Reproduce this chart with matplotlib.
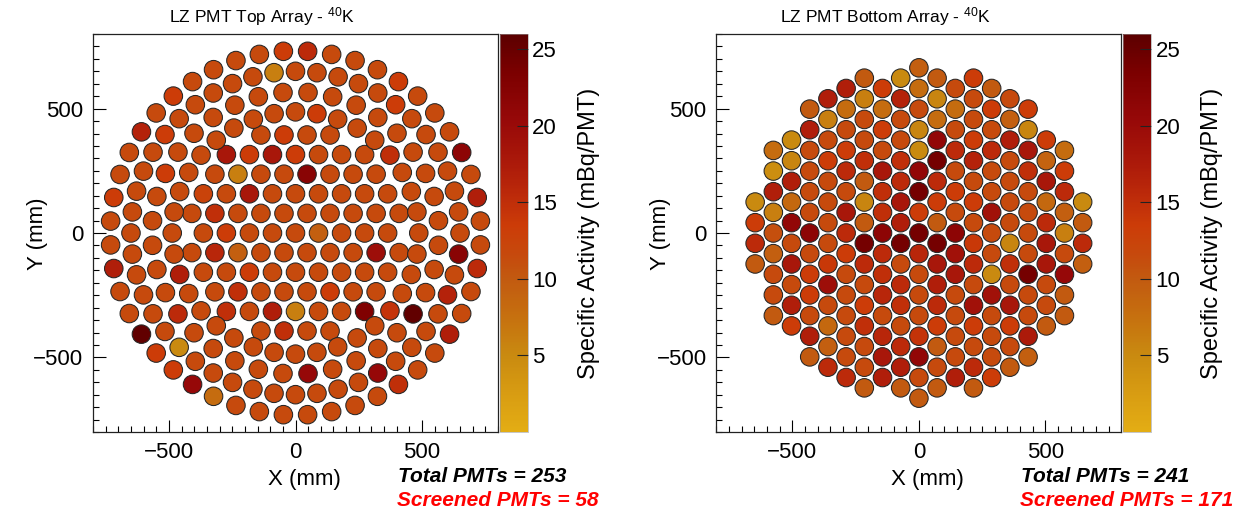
import numpy as np
import matplotlib
matplotlib.use("Agg")
import matplotlib.pyplot as plt
from matplotlib.colors import LinearSegmentedColormap, Normalize
from matplotlib.ticker import MultipleLocator

plt.rcParams['font.family'] = ['Liberation Sans', 'DejaVu Sans']
plt.rcParams['mathtext.fontset'] = 'custom'
plt.rcParams['mathtext.rm'] = 'Liberation Sans'
plt.rcParams['mathtext.it'] = 'Liberation Sans:italic'
plt.rcParams['mathtext.bf'] = 'Liberation Sans:bold'

# ---------------- data ----------------
palette_levels = [0, 2.5, 5, 7.5, 10, 11.5, 13.5, 15.5, 17.5, 20.5, 23.5, 26]
palette_colors = ['#E3AD14', '#D89C12', '#C98A10', '#C6700F', '#C25A10', '#C64A0D',
                  '#CC3C08', '#BC2A0A', '#AC1A0A', '#960808', '#7C0000', '#5C0000']
z_min, z_max = 0.0, 26.0
cbar_ticks = [5, 10, 15, 20, 25]
axis_ticks = [-500, 0, 500]

titles = ["LZ PMT Top Array - $^{40}$K", "LZ PMT Bottom Array - $^{40}$K"]
total_pmts = [253, 241]
screened_pmts = [58, 171]

# top array geometry (hexagonal core + circular outer rings)
top_hex_pitch = 91.0
top_hex_r2_max = 21.0
top_ring_radius = [487, 567, 650, 732]
top_ring_count = [36, 36, 48, 48]
top_ring_phase = [0.0, 5.0, 0.0, 3.75]
top_mean_activity = 11.5

# screened top PMTs: approximate location (mm) and activity (mBq/PMT)
top_screened_x = [-48, 48, -85, 406, -482, 396, 85, -608, -516, -45, -273, -182, -91, 0,
                  373, 656, -514, -228, 45, -718, -364, -182, 718, -318, -273, 91, -318,
                  -228, 318, 644, -718, -458, -182, 718, -228, 136, 600, -464, -273, -91,
                  0, 273, 373, 464, -608, -45, 608, -550, -460, -482, 49, 325, -406, 406,
                  -323]
top_screened_y = [730, 730, 644, 608, 550, 516, 480, 406, 396, 394, 315, 315, 315, 315,
                  313, 324, 240, 236, 236, 143, 158, 158, 143, 79, 0, 0, -79,
                  -79, -79, -85, -143, -167, -158, -143, -236, -236, -249, -325, -315, -315,
                  -315, -315, -313, -325, -406, -394, -406, -482, -460, -550, -565, -563, -608, -608,
                  -656]
top_screened_val = [13.5, 15.5, 6, 13.5, 13.5, 13.5, 13.5, 16.5, 13.5, 13.5, 18, 13.5, 18, 13.5,
                    15, 21.5, 13.5, 6, 22, 13.5, 12.5, 18, 17, 15, 13.5, 9.5, 16,
                    9.5, 19.5, 22, 17, 17, 13.5, 15.5, 15, 13.5, 16.5, 15.5, 15, 17,
                    6, 23, 14.5, 25.5, 25.5, 15, 17, 13.5, 5, 13.5, 20.5, 20.5, 20.5, 15,
                    8]

# bottom array geometry (hexagonal lattice, vertical columns)
bottom_pitch = 83.0
bottom_r_max = 8.1
# activities row by row (top to bottom), each row left to right
bottom_rows = [
    [9.5],
    [10, 5, 10, 13.5],
    [17, 13.5, 8, 11.5, 10],
    [17, 6, 16.5, 5.5, 11.5, 11.5],
    [10, 8, 8, 11.5, 8, 13.5, 13.5],
    [6, 11.5, 11.5, 8, 11.5, 9.5],
    [17, 11.5, 13.5, 5.5, 11.5, 11.5, 5.5],
    [5, 11.5, 11.5, 11.5, 21, 13.5, 17, 13.5],
    [8, 11.5, 13.5, 11.5, 5, 15.5, 15.5, 18, 8],
    [5.5, 13.5, 15, 15, 24, 16.5, 11.5, 9],
    [4.5, 11.5, 15.5, 18, 21, 11.5, 11.5, 15, 13.5],
    [17, 11.5, 10, 15.5, 15.5, 11.5, 11.5, 18],
    [17, 11.5, 11.5, 15, 24, 13.5, 11.5, 11.5, 15.5],
    [5, 8.5, 11.5, 5.5, 18, 13.5, 13.5, 11.5, 8.5, 5],
    [6, 11.5, 18, 15, 13.5, 11.5, 19, 11.5, 9.5],
    [13.5, 21, 11.5, 10, 17, 10, 11.5, 11.5, 15.5, 10],
    [11, 21.5, 15.5, 21.5, 24, 21.5, 11.5, 11.5, 6],
    [15.5, 11.5, 11.5, 24, 24, 24, 14, 5.5, 18, 15.5],
    [9.5, 11.5, 13.5, 15.5, 16, 19, 11.5, 11.5, 11.5],
    [10, 18, 14, 15.5, 11.5, 18, 15.5, 15, 18, 9.5],
    [11.5, 13.5, 11.5, 15, 11.5, 18, 5, 24, 20.5],
    [11.5, 19.5, 11.5, 15.5, 17, 11.5, 11.5, 11.5],
    [11.5, 13.5, 11.5, 16, 11.5, 11.5, 19, 11.5, 10],
    [17, 11.5, 13.5, 15, 15.5, 19, 18, 11.5],
    [10, 11.5, 11.5, 11.5, 11.5, 11.5, 11.5, 11.5, 10],
    [13.5, 8.5, 15, 11.5, 13.5, 13.5, 13.5, 10],
    [17, 11.5, 16, 14.5, 11.5, 11.5, 17.5],
    [9.5, 11.5, 15.5, 10, 11.5, 11.5],
    [10, 11.5, 18, 21, 11.5, 11.5, 9.5],
    [15.5, 11.5, 17, 11.5, 15.5, 10],
    [15.5, 17, 11.5, 17, 13.5],
    [10, 10, 10, 10],
    [10],
]

# ---------------- geometry helpers ----------------
def top_positions():
    xs, ys = [], []
    p = top_hex_pitch
    for k in range(-7, 8):
        for i in range(-7, 8):
            u = i + 0.5 * (k % 2)
            v = k * np.sqrt(3) / 2
            if u * u + v * v <= top_hex_r2_max + 1e-6:
                xs.append(u * p)
                ys.append(v * p)
    for r, n, ph in zip(top_ring_radius, top_ring_count, top_ring_phase):
        ang = np.deg2rad(ph + np.arange(n) * 360.0 / n)
        xs.extend(r * np.cos(ang))
        ys.extend(r * np.sin(ang))
    return np.array(xs), np.array(ys)


def bottom_positions():
    d = bottom_pitch
    pts = []
    for k in range(-11, 12):
        for m in range(-11, 12):
            x = k * d * np.sqrt(3) / 2
            y = (m + 0.5 * (k % 2)) * d
            if np.hypot(x, y) <= bottom_r_max * d:
                pts.append((x, y))
    pts.sort(key=lambda q: (-round(q[1], 3), q[0]))
    pts = np.array(pts)
    return pts[:, 0], pts[:, 1]


tx, ty = top_positions()
tval = np.full(tx.size, top_mean_activity)
for sx, sy, sv in zip(top_screened_x, top_screened_y, top_screened_val):
    idx = np.argmin((tx - sx) ** 2 + (ty - sy) ** 2)
    tval[idx] = sv

bx, by = bottom_positions()
bval = np.array([v for row in bottom_rows for v in row], dtype=float)

# ---------------- figure ----------------
W, H = 1236, 513
fig = plt.figure(figsize=(W / 100, H / 100), dpi=100)
cmap = LinearSegmentedColormap.from_list(
    'lzpal', list(zip(np.array(palette_levels) / z_max, palette_colors)))
norm = Normalize(z_min, z_max)

panels = [(tx, ty, tval), (bx, by, bval)]
offset = 623.4
AX_L, AX_R, AX_T, AX_B = 93, 498, 34, 432
for p_i, (xx, yy, vv) in enumerate(panels):
    dx = p_i * offset
    ax = fig.add_axes([(AX_L + dx) / W, (H - AX_B) / H, (AX_R - AX_L) / W, (AX_B - AX_T) / H])
    sc = ax.scatter(xx, yy, c=vv, cmap=cmap, norm=norm, s=178,
                    edgecolors='#262626', linewidths=0.75, zorder=3)
    ax.set_xlim(-800, 800)
    ax.set_ylim(-800, 800)
    ax.set_xticks(axis_ticks)
    ax.set_yticks(axis_ticks)
    ax.xaxis.set_minor_locator(MultipleLocator(50))
    ax.yaxis.set_minor_locator(MultipleLocator(50))
    ax.tick_params(which='both', direction='in', top=False, right=False,
                   labelsize=16, width=0.8, color='black')
    ax.tick_params(which='major', length=9, pad=7)
    ax.tick_params(which='minor', length=4.5)
    for sp in ax.spines.values():
        sp.set_linewidth(0.9)
        sp.set_color('#222222')
    ax.set_xlabel('X (mm)', fontsize=16, va='center')
    ax.set_ylabel('Y (mm)', fontsize=16, va='center')
    ax.xaxis.set_label_coords((304 - AX_L) / (AX_R - AX_L), (AX_B - 480) / (AX_B - AX_T))
    ax.yaxis.set_label_coords((37 - AX_L) / (AX_R - AX_L), (AX_B - 234) / (AX_B - AX_T))

    cax = fig.add_axes([(500 + dx) / W, (H - AX_B) / H, 28 / W, (AX_B - AX_T) / H])
    cb = fig.colorbar(sc, cax=cax)
    cb.set_ticks(cbar_ticks)
    cb.ax.tick_params(direction='in', length=8, width=0.8, labelsize=16, pad=3,
                      color='#222222')
    cb.ax.minorticks_off()
    cb.outline.set_linewidth(0.4)
    cb.outline.set_edgecolor('#999999')
    cb.ax.set_ylabel('Specific Activity (mBq/PMT)', fontsize=17, rotation=90,
                     va='center', ha='center')
    cb.ax.yaxis.set_label_coords((589 - 500) / 28, 0.5)

    fig.text((262 + dx) / W, 1 - 17 / H, titles[p_i], ha='center', va='center',
             fontsize=12.5)
    fig.text((398 + dx) / W, 1 - 477 / H, 'Total PMTs = %d' % total_pmts[p_i],
             ha='left', va='center', fontsize=15, fontweight='bold',
             fontstyle='italic', color='black')
    fig.text((397 + dx) / W, 1 - 501 / H, 'Screened PMTs = %d' % screened_pmts[p_i],
             ha='left', va='center', fontsize=15, fontweight='bold',
             fontstyle='italic', color='#FF0000')

fig.savefig('out.png', dpi=100)
